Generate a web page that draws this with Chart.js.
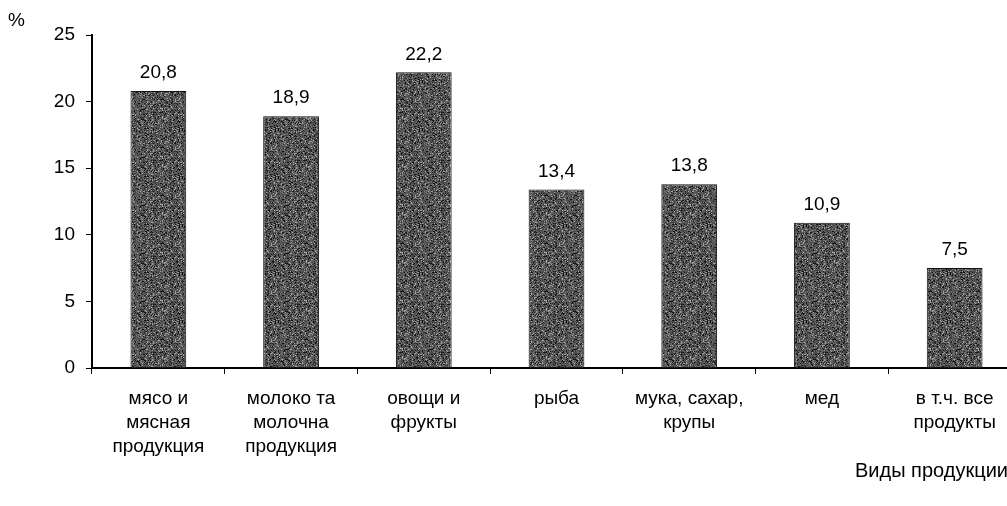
<!DOCTYPE html>
<html>
<head>
<meta charset="utf-8">
<script src="https://cdn.jsdelivr.net/npm/chart.js@4.4.1/dist/chart.umd.min.js"></script>
<style>
  html, body { margin: 0; padding: 0; background: #fff; overflow: hidden; }
  #wrap { width: 1030px; height: 506px; }
</style>
</head>
<body>
<div id="wrap"><canvas id="c" width="1030" height="506"></canvas></div>
<script>
// Categories (multi-line labels under the x axis)
const categories = [
  ['мясо и', 'мясная', 'продукция'],
  ['молоко та', 'молочна', 'продукция'],
  ['овощи и', 'фрукты'],
  'рыба',
  ['мука, сахар,', 'крупы'],
  'мед',
  ['в т.ч. все', 'продукты']
];
// Share of each product group, %
const shares = [20.8, 18.9, 22.2, 13.4, 13.8, 10.9, 7.5];
// Y axis ticks
const yTicks = [0, 5, 10, 15, 20, 25];
const unitLabel = '%';
const axisTitle = 'Виды продукции';

const FONT = 'Arial, "Liberation Sans", sans-serif';

// Grainy dark fill for the bars
function grainPattern() {
  const size = 48;
  const pc = document.createElement('canvas');
  pc.width = size; pc.height = size;
  const g = pc.getContext('2d');
  const img = g.createImageData(size, size);
  let seed = 12345;
  const next = () => { seed = (seed * 1103515245 + 12345) & 0x7fffffff; return seed / 0x7fffffff; };
  for (let i = 0; i < size * size; i++) {
    const r = next();
    let v = 50 + Math.floor(r * 70);
    if (r > 0.9) v = 165;
    if (r < 0.14) v = 22;
    img.data[i * 4] = v; img.data[i * 4 + 1] = v; img.data[i * 4 + 2] = v; img.data[i * 4 + 3] = 255;
  }
  g.putImageData(img, 0, 0);
  return document.getElementById('c').getContext('2d').createPattern(pc, 'repeat');
}

// Value labels above bars, decimal comma
const valueLabels = {
  id: 'valueLabels',
  afterDatasetsDraw(chart) {
    const ctx = chart.ctx;
    const meta = chart.getDatasetMeta(0);
    ctx.save();
    ctx.font = '19px ' + FONT;
    ctx.fillStyle = '#000';
    ctx.textAlign = 'center';
    ctx.textBaseline = 'middle';
    meta.data.forEach((bar, i) => {
      const txt = shares[i].toFixed(1).replace('.', ',');
      ctx.fillText(txt, bar.x, bar.y - 18);
    });
    ctx.restore();
  }
};

// Unit sign and axis caption
const captions = {
  id: 'captions',
  afterDraw(chart) {
    const ctx = chart.ctx;
    ctx.save();
    ctx.fillStyle = '#000';
    ctx.textBaseline = 'middle';
    ctx.textAlign = 'left';
    ctx.font = '19px ' + FONT;
    ctx.fillText(unitLabel, 8, 21);
    ctx.font = '20px ' + FONT;
    ctx.fillText(axisTitle, 855, 471);
    ctx.restore();
  }
};

new Chart(document.getElementById('c'), {
  type: 'bar',
  data: {
    labels: categories,
    datasets: [{
      data: shares,
      backgroundColor: grainPattern(),
      borderColor: '#111',
      borderWidth: 1,
      barPercentage: 0.42,
      categoryPercentage: 1.0
    }]
  },
  options: {
    responsive: false,
    animation: false,
    layout: { padding: { top: 35, right: 9, left: 0, bottom: 0 } },
    plugins: { legend: { display: false }, tooltip: { enabled: false } },
    scales: {
      x: {
        offset: true,
        grid: { display: true, drawOnChartArea: false, drawTicks: true, tickLength: 6, color: '#000', offset: true },
        border: { display: true, color: '#000', width: 2 },
        ticks: { color: '#000', font: { family: FONT, size: 19, lineHeight: 1.26 }, padding: 13, maxRotation: 0, autoSkip: false },
        afterFit(scale) { scale.height = 138; }
      },
      y: {
        min: 0, max: 25,
        afterBuildTicks(scale) { scale.ticks = yTicks.map(v => ({ value: v })); },
        grid: { display: true, drawOnChartArea: false, drawTicks: true, tickLength: 6, color: '#000' },
        border: { display: true, color: '#000', width: 2 },
        ticks: { color: '#000', font: { family: FONT, size: 19 }, padding: 11 },
        afterFit(scale) { scale.width = 92; }
      }
    }
  },
  plugins: [valueLabels, captions]
});
</script>
</body>
</html>
